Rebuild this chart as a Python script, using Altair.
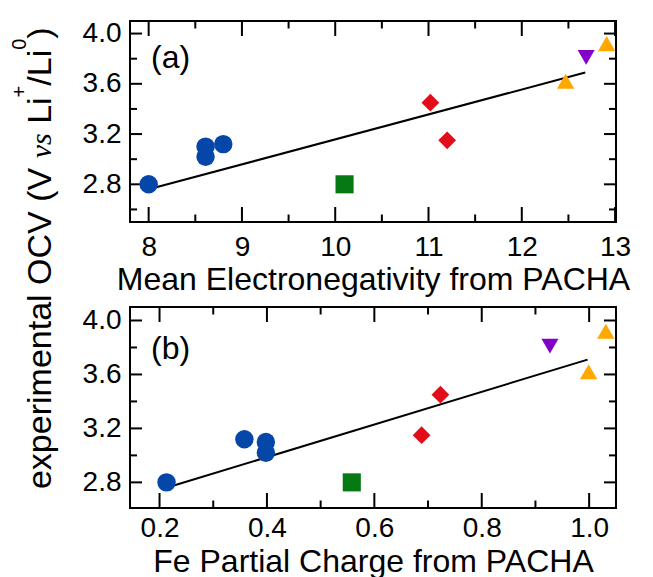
import altair as alt
import pandas as pd

# ---------------- data ----------------
group = ["blue", "blue", "blue", "blue", "green", "red", "red", "orange", "purple", "orange"]
ocv = [2.80, 3.02, 3.10, 3.12, 2.80, 3.45, 3.15, 3.62, 3.81, 3.92]
mean_en = [8.00, 8.61, 8.61, 8.80, 10.10, 11.02, 11.20, 12.47, 12.69, 12.91]
fe_charge = [0.213, 0.398, 0.398, 0.358, 0.558, 0.723, 0.688, 0.999, 0.927, 1.031]

fit_a_x = [8.0, 12.68]
fit_a_y = [2.76, 3.69]
fit_b_x = [0.225, 0.997]
fit_b_y = [2.775, 3.71]

xa_major = [8, 9, 10, 11, 12, 13]
xa_minor = [8.5, 9.5, 10.5, 11.5, 12.5]
ya_major = [2.8, 3.2, 3.6, 4.0]
ya_minor = [2.6, 3.0, 3.4, 3.8]
xb_major = [0.2, 0.4, 0.6, 0.8, 1.0]
xb_minor = [0.3, 0.5, 0.7, 0.9]
yb_major = [2.8, 3.2, 3.6, 4.0]
yb_minor = [3.0, 3.4, 3.8]

group_domain = ["blue", "green", "red", "orange", "purple"]
group_colors = ["#0447a8", "#067a12", "#e20d18", "#ffa800", "#8200c8"]
group_shapes = ["circle", "square", "diamond", "triangle-up", "triangle-down"]
group_sizes = [340, 290, 420, 420, 420]

W, H = 486, 201
FONT = "Liberation Sans"

df = pd.DataFrame({"group": group, "ocv": ocv, "mean_en": mean_en, "fe_charge": fe_charge})

AXIS_STYLE = dict(
    labelFont=FONT, labelFontSize=28, labelColor="black",
    titleFont=FONT, titleFontSize=32, titleColor="black", titleFontWeight="normal",
    grid=False, ticks=False, domain=False, labelFlush=False, labelOverlap=False,
)


def panel(xfield, xdomain, xmaj, xmin, ydomain, ymaj, ymin, xfmt, xtitle, titley, lpad,
          label, label_y, fit_x, fit_y, extra):
    xs = alt.Scale(domain=xdomain, nice=False, zero=False)
    ys = alt.Scale(domain=ydomain, nice=False, zero=False)
    xax = alt.Axis(values=xmaj, format=xfmt, labelPadding=lpad, title=xtitle,
                   titleY=titley, titleBaseline="alphabetic", **AXIS_STYLE)
    yax = alt.Axis(values=ymaj, format=".1f", labelPadding=9, title="", **AXIS_STYLE)

    layers = []
    # inward ticks on all four sides
    for vals, ln in ((xmaj, 15), (xmin, 7.5)):
        base = alt.Chart(pd.DataFrame({"v": vals})).mark_rule(color="black", strokeWidth=2)
        layers.append(base.encode(x=alt.X("v:Q", scale=xs, axis=xax), y=alt.value(0), y2=alt.value(ln)))
        layers.append(base.encode(x=alt.X("v:Q", scale=xs, axis=xax), y=alt.value(H - ln), y2=alt.value(H)))
    for vals, ln in ((ymaj, 12), (ymin, 7)):
        base = alt.Chart(pd.DataFrame({"v": vals})).mark_rule(color="black", strokeWidth=2)
        layers.append(base.encode(y=alt.Y("v:Q", scale=ys, axis=yax), x=alt.value(0), x2=alt.value(ln)))
        layers.append(base.encode(y=alt.Y("v:Q", scale=ys, axis=yax), x=alt.value(W - ln), x2=alt.value(W)))

    fit = alt.Chart(pd.DataFrame({"fx": fit_x, "fy": fit_y})).mark_line(color="black", strokeWidth=2).encode(
        x=alt.X("fx:Q", scale=xs, axis=xax), y=alt.Y("fy:Q", scale=ys, axis=yax))
    pts = alt.Chart(df).mark_point(filled=True, opacity=1, strokeWidth=0).encode(
        x=alt.X(f"{xfield}:Q", scale=xs, axis=xax),
        y=alt.Y("ocv:Q", scale=ys, axis=yax),
        color=alt.Color("group:N", scale=alt.Scale(domain=group_domain, range=group_colors), legend=None),
        shape=alt.Shape("group:N", scale=alt.Scale(domain=group_domain, range=group_shapes), legend=None),
        size=alt.Size("group:N", scale=alt.Scale(domain=group_domain, range=group_sizes), legend=None),
    )
    lab = alt.Chart(pd.DataFrame({"t": [label]})).mark_text(
        font=FONT, fontSize=32, align="left", baseline="middle", color="black").encode(
        text="t:N", x=alt.value(21), y=alt.value(label_y))
    layers += [fit, pts, lab] + extra
    return alt.layer(*layers).properties(width=W, height=H)


# y-axis title pieces (rotated text), positioned relative to panel (a)
BX = -79.0      # main baseline
SX = -103.7     # superscript baseline


def piece(txt, yv, align, font=FONT, size=34, style="normal", bx=BX):
    return alt.Chart(pd.DataFrame({"t": [txt]})).mark_text(
        font=font, fontSize=size, fontStyle=style, angle=270, align=align,
        baseline="alphabetic", color="black").encode(text="t:N", x=alt.value(bx), y=alt.value(yv))


title_pieces = [
    piece("experimental OCV (V", 146.8, "right"),
    piece("vs", 137.3, "left", font="Liberation Serif", size=30, style="italic"),
    piece("Li", 102.8, "left"),
    piece("+", 76.4, "left", size=20, bx=SX),
    piece("/Li", 64.7, "left"),
    piece("0", 28.8, "left", size=20, bx=SX),
    piece(")", 17.7, "left"),
]

pa = panel("mean_en", [7.8, 13.01], xa_major, xa_minor, [2.5, 4.1], ya_major, ya_minor,
           "d", "Mean Electronegativity from PACHA", 67, 11, "(a)", 36.5, fit_a_x, fit_a_y, title_pieces)
pb = panel("fe_charge", [0.145, 1.05], xb_major, xb_minor, [2.61, 4.1], yb_major, yb_minor,
           ".1f", "Fe Partial Charge from PACHA", 63, 6.5, "(b)", 42.2, fit_b_x, fit_b_y, [])

chart = alt.vconcat(pa, pb, spacing=85, bounds="flush").properties(
    padding={"left": 1, "top": 10, "right": 5, "bottom": 2}
).configure_view(stroke="black", strokeWidth=2)

chart.save("out.html", embed_options={"renderer": "svg", "actions": False})
